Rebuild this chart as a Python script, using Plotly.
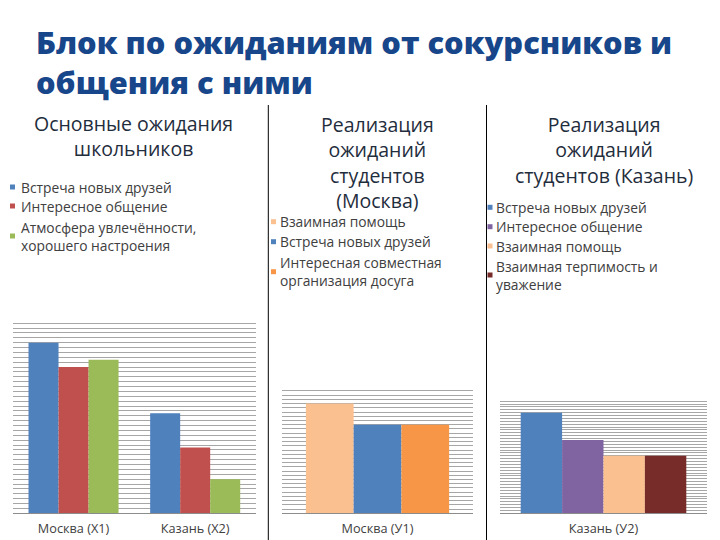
import plotly.graph_objects as go

# данные
cats_1 = ["Москва (X1)", "Казань (X2)"]
names_1 = ["Встреча новых друзей", "Интересное общение",
           "Атмосфера увлечённости,<br>хорошего настроения"]
vals_1 = [[35, 20.5], [30, 13.5], [31.5, 7]]

cats_2 = ["Москва (У1)"]
names_2 = ["Взаимная помощь", "Встреча новых друзей",
           "Интересная совместная<br>организация досуга"]
vals_2 = [[26], [21], [21]]

cats_3 = ["Казань (У2)"]
names_3 = ["Встреча новых друзей", "Интересное общение", "Взаимная помощь",
           "Взаимная терпимость и<br>уважение"]
vals_3 = [[35], [25.5], [20], [20]]

titles = ["Основные ожидания<br>школьников",
          "Реализация<br>ожиданий<br>студентов<br>(Москва)",
          "Реализация<br>ожиданий<br>студентов (Казань)"]
main_title = "Блок по ожиданиям от сокурсников и<br>общения с ними"

colors_1 = ["#4F81BD", "#C0504D", "#9BBB59"]
colors_2 = ["#FAC090", "#4F81BD", "#F79646"]
colors_3 = ["#4F81BD", "#8064A2", "#FAC090", "#772C2A"]

W, H = 720, 540
OFF = 8  # страница сдвигает график на 8px (отступ body)


def px(x):
    return (x - OFF) / W


def py(y):
    return 1 - (y - OFF) / H


fig = go.Figure()

panels = [
    # cats, names, vals, colors, axis suffix, x px domain, top px, ymax, start, bar w, legend
    (cats_1, names_1, vals_1, colors_1, "", (12.7, 256), 318.3, 40, -0.37, 0.2467,
     (12.5, 19, [187, 206, 236])),
    (cats_2, names_2, vals_2, colors_2, "2", (282, 473), 386.7, 30, -0.375, 0.25,
     (273.5, 278, [221.7, 241.7, 271.7])),
    (cats_3, names_3, vals_3, colors_3, "3", (500, 707), 398.3, 40, -0.4, 0.2,
     (490, 493.5, [207.3, 226.7, 246, 275])),
]

for cats, names, vals, colors, sfx, xdom, top, ymax, start, bw, leg in panels:
    for i, (name, v, c) in enumerate(zip(names, vals, colors)):
        fig.add_trace(go.Bar(x=cats, y=v, name=name, marker_color=c,
                             marker_line_width=0, width=bw, offset=start + i * bw,
                             xaxis="x" + sfx, yaxis="y" + sfx, showlegend=False))
    fig.layout["xaxis" + sfx] = dict(domain=[px(xdom[0]), px(xdom[1])], anchor="y" + sfx,
                                     type="category", range=[-0.5, len(cats) - 0.5],
                                     showline=True, linecolor="#8c8c8c", linewidth=1,
                                     showgrid=False, ticks="", ticklabelstandoff=3,
                                     fixedrange=True,
                                     tickfont=dict(size=12.7, color="#404040", family="Open Sans"))
    fig.layout["yaxis" + sfx] = dict(domain=[py(513.3), py(top)], anchor="x" + sfx,
                                     range=[0, ymax], dtick=1, showticklabels=False,
                                     gridcolor="#a6a6a6", gridwidth=1, zeroline=False,
                                     fixedrange=True)
    # легенда
    mx, tx, ys = leg
    for name, c, y in zip(names, colors, ys):
        fig.add_shape(type="rect", xref="paper", yref="paper",
                      x0=px(mx - 2.5), x1=px(mx + 2.5), y0=py(y - 2.5), y1=py(y + 2.5),
                      fillcolor=c, line_width=0)
        fig.add_annotation(x=px(tx), y=py(y), xref="paper", yref="paper", text=name,
                           showarrow=False, xanchor="left", yanchor="middle", align="left",
                           font=dict(size=13.8, color="#404040", family="Open Sans"))

# заголовки диаграмм
for t, cx, cy in zip(titles, [134, 377.5, 603.5], [135.5, 162.5, 149.7]):
    fig.add_annotation(x=px(cx), y=py(cy), xref="paper", yref="paper", text=t,
                       showarrow=False, xanchor="center", yanchor="middle",
                       font=dict(size=19.5, color="#1f2d3d", family="Open Sans"))

# общий заголовок
fig.add_annotation(x=px(34), y=py(61.5), xref="paper", yref="paper", text=main_title,
                   showarrow=False, xanchor="left", yanchor="middle", align="left",
                   font=dict(size=30.8, color="#17468a", family="Open Sans", weight=800))

# разделители
for x in [268.3, 486.5]:
    fig.add_shape(type="line", xref="paper", yref="paper",
                  x0=px(x), x1=px(x), y0=py(105), y1=0,
                  line=dict(color="#000000", width=1))

fig.update_layout(width=W, height=H, margin=dict(l=0, r=0, t=0, b=0),
                  paper_bgcolor="white", plot_bgcolor="white",
                  barmode="overlay", showlegend=False)

fig.write_html("out.html")
